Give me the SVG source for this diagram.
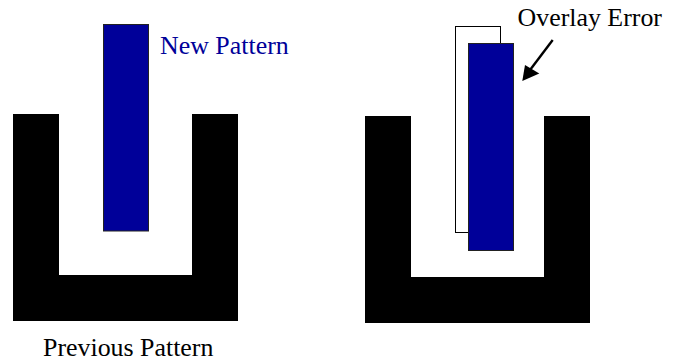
<svg xmlns="http://www.w3.org/2000/svg" width="674" height="362" viewBox="0 0 674 362">
<defs>
<style>
.u{fill:#000;stroke:none}
.blue{fill:#000099;stroke:#222;stroke-width:1}
.ghost{fill:#fff;stroke:#000;stroke-width:1}
.lbl{font-family:"Liberation Serif","Times New Roman",serif;font-size:25.9px}
</style>
</defs>
<rect width="674" height="362" fill="#fff"/>
<g id="previous-pattern-left">
<path class="u" d="M13,114 H59 V275 H192 V114 H238 V321 H13 Z"/>
</g>
<g id="new-pattern-left">
<rect class="blue" x="103.5" y="24.5" width="45" height="206.5"/>
</g>
<g id="label-new-pattern">
<text class="lbl" x="160" y="54" fill="#000099">New Pattern</text>
</g>
<g id="label-previous-pattern">
<text class="lbl" x="43" y="356" fill="#000">Previous Pattern</text>
</g>
<g id="previous-pattern-right">
<path class="u" d="M365,116 H411 V277 H544 V116 H590 V323 H365 Z"/>
</g>
<g id="ideal-position">
<rect class="ghost" x="455.5" y="26.5" width="45" height="206"/>
</g>
<g id="new-pattern-right">
<rect class="blue" x="468.5" y="43.5" width="45" height="207"/>
</g>
<g id="label-overlay-error">
<text class="lbl" x="517.5" y="26" fill="#000">Overlay Error</text>
</g>
<g id="connectors">
<line x1="552.7" y1="40" x2="530" y2="70" stroke="#000" stroke-width="2.4"/>
<path d="M525,65 L539.3,73.5 L522.3,81 Z" fill="#000"/>
</g>
</svg>
